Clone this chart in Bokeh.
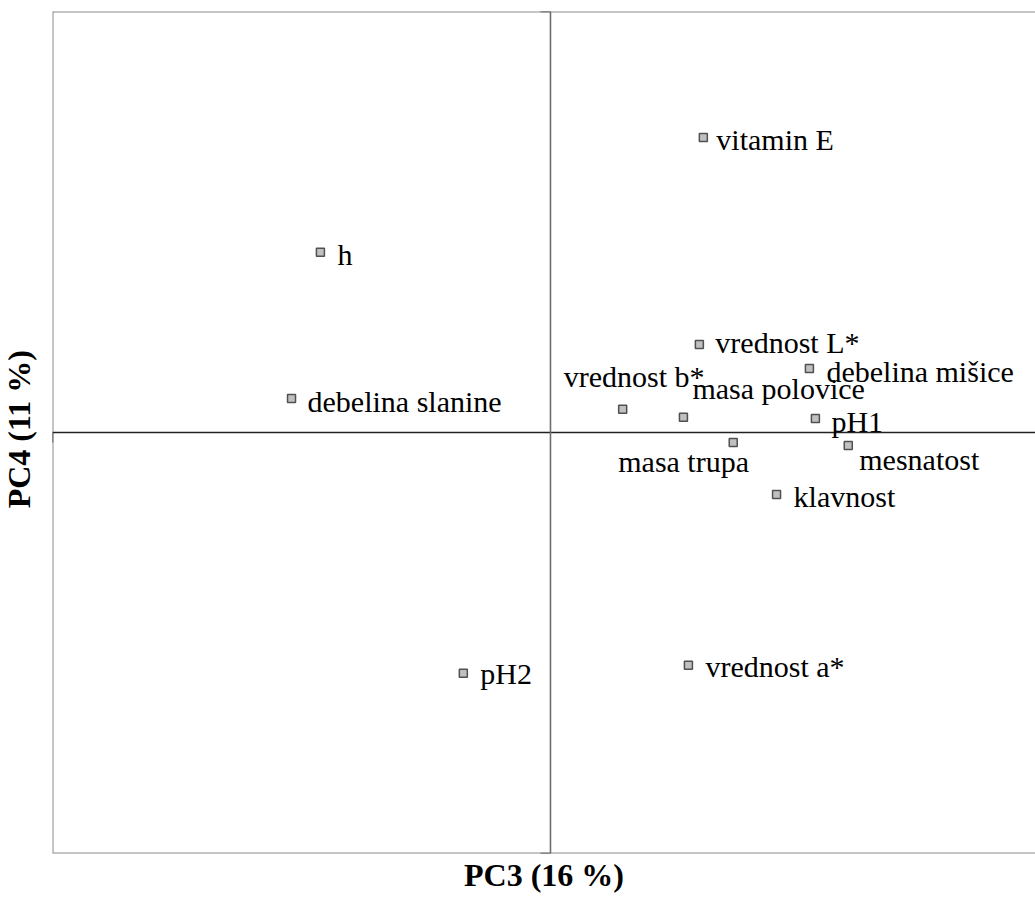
import math
from bokeh.plotting import figure
from bokeh.layouts import row
from bokeh.models import ColumnDataSource, Range1d, Span, Title, Label
from bokeh.core.properties import value
from bokeh.embed import file_html
from bokeh.resources import INLINE

# PCA loadings of carcass / meat-quality traits on PC3 and PC4
traits = ["vitamin E", "h", "vrednost L*", "debelina mišice", "debelina slanine",
          "vrednost b*", "masa polovice", "pH1", "masa trupa", "mesnatost",
          "klavnost", "vrednost a*", "pH2"]
pc3 = [0.307, -0.462, 0.299, 0.520, -0.520, 0.145, 0.267, 0.532, 0.367, 0.598,
       0.454, 0.277, -0.175]
pc4 = [0.701, 0.428, 0.209, 0.152, 0.081, 0.055, 0.036, 0.033, -0.024, -0.031,
       -0.147, -0.553, -0.572]

x_title = "PC3 (16 %)"
y_title = "PC4 (11 %)"

# label placement: px from the point to the text start / text middle (down = +)
label_dx = [13, 17, 16, 17, 16, -59, 9, 16, -115, 11, 17, 17, 17]
label_dy = [2, 2, -2, 3, 3, -33, -29, 3, 19, 14, 2, 1, 0]

FONT = "Liberation Serif"
BORDER = "#8c8c8c"
H = 897

src = ColumnDataSource(dict(x=pc3, y=pc4))

p = figure(width=984, height=H, output_backend="svg", toolbar_location=None,
           x_axis_type=None, y_axis_type=None,
           x_range=Range1d(-1, 0.974), y_range=Range1d(-1, 1),
           min_border_left=1, min_border_right=0, min_border_top=11,
           min_border_bottom=44)
p.outline_line_color = None
p.background_fill_color = "white"
p.border_fill_color = "white"

# frame (left, top, bottom) – the right side runs off the page
p.add_layout(Span(location=-1, dimension="height", line_color=BORDER, line_width=2))
p.add_layout(Span(location=1, dimension="width", line_color=BORDER, line_width=2))
p.add_layout(Span(location=-1, dimension="width", line_color=BORDER, line_width=2))

# axes through the origin
p.add_layout(Span(location=0, dimension="width", line_color="#222222", line_width=1.6))
p.add_layout(Span(location=0, dimension="height", line_color="#6e6e6e", line_width=1.6))

# end ticks of the crossing axes
p.ray(x=[0, 0], y=[-1, 1], length=10, length_units="screen", angle=math.pi,
      line_color="#111111", line_width=1.6)
p.ray(x=[-1], y=[0], length=10, length_units="screen", angle=-math.pi / 2,
      line_color="#111111", line_width=1.6)

p.scatter("x", "y", source=src, marker="square", size=8,
          fill_color="#c0c0c0", line_color="#505050", line_width=1.5)

for name, xv, yv, dx, dy in zip(traits, pc3, pc4, label_dx, label_dy):
    p.add_layout(Label(x=xv, y=yv, x_offset=dx, y_offset=-dy, text=name,
                       text_font=FONT, text_font_size="30px", text_color="black",
                       text_align="left", text_baseline="middle"))

p.add_layout(Title(text=x_title, align="center", text_font=FONT,
                   text_font_size="32px", text_font_style="bold",
                   text_color="black", standoff=2, offset=3), "below")

# narrow strip on the left carrying the vertical axis title
side = figure(width=51, height=H, output_backend="svg", toolbar_location=None,
              x_axis_type=None, y_axis_type=None,
              x_range=Range1d(0, 51), y_range=Range1d(0, H),
              min_border=0)
side.outline_line_color = None
side.background_fill_color = "white"
side.border_fill_color = "white"
side.text(x=[18], y=[H - 445], text=[y_title], angle=math.pi / 2,
          text_font=value(FONT), text_font_size="32px", text_font_style="bold",
          text_color="black", text_align="center", text_baseline="middle")

layout = row(side, p, spacing=0)

open("out.html", "w").write(file_html(layout, INLINE))
